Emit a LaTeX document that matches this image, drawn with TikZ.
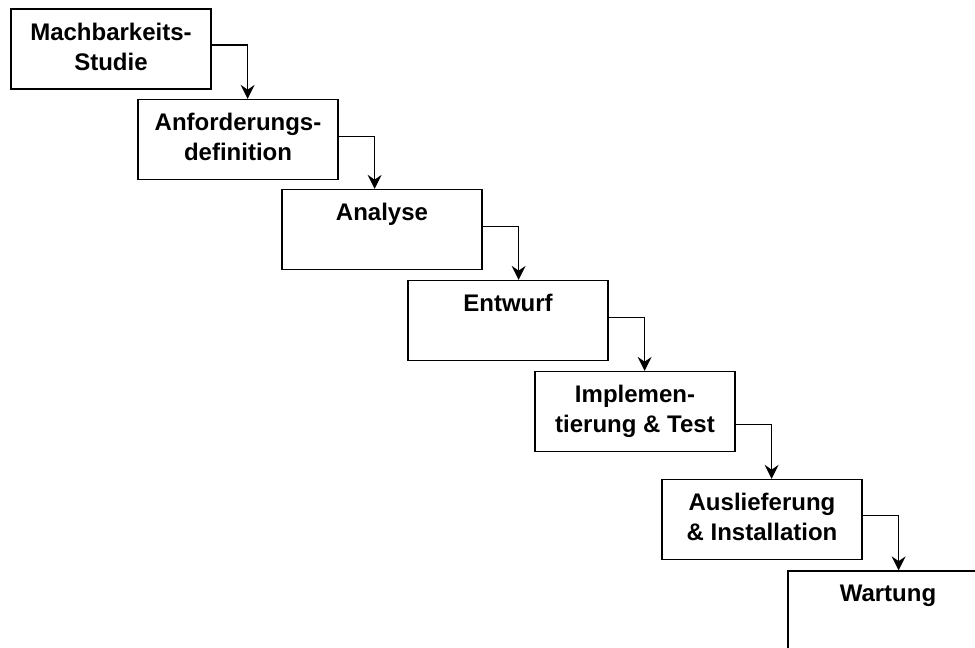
\documentclass[tikz,border=0pt]{standalone}
\usepackage{fontspec}
\setmainfont{Liberation Sans}
\usepackage{tikz}
\usetikzlibrary{calc, positioning, arrows.meta}
\tikzstyle{phase}   = [rectangle, minimum width=100pt, minimum height=40pt, inner sep=0pt, draw=black, line width=0.65pt, fill=white]
\tikzstyle{boxtext} = [inner sep=0pt, outer sep=0pt, align=center, font=\fontsize{12}{15}\selectfont\bfseries]
\tikzstyle{arrow}   = [line width=0.6pt, -{Stealth[length=7pt, width=7pt, inset=2.4pt]}]

\begin{document}
\begin{tikzpicture}[x=0.5pt, y=-0.5pt]
    \clip (0,0) rectangle (975,648);

    \node (machbar) [phase] at (111,49)    {};
    \node (anford)  [phase] at (238,139.5) {};
    \node (analyse) [phase] at (382,229.5) {};
    \node (entwurf) [phase] at (508,320.5) {};
    \node (impl)    [phase] at (635,411.5) {};
    \node (ausl)    [phase] at (762,519.5) {};
    \node (wartung) [phase] at (888,611)   {};

    \node (machbar-t) [boxtext, below=7.2pt of machbar.north] {Machbarkeits-\\Studie};
    \node (anford-t)  [boxtext, below=7.2pt of anford.north]  {Anforderungs-\\definition};
    \node (analyse-t) [boxtext, below=7.2pt of analyse.north] {Analyse};
    \node (entwurf-t) [boxtext, below=7.2pt of entwurf.north] {Entwurf};
    \node (impl-t)    [boxtext, below=7.2pt of impl.north]    {Implemen-\\tierung \& Test};
    \node (ausl-t)    [boxtext, below=7.2pt of ausl.north]    {Auslieferung\\\& Installation};
    \node (wartung-t) [boxtext, below=7.2pt of wartung.north] {Wartung};

    % corners of the connectors
    \coordinate (k1) at ([xshift=18pt]machbar.east);
    \coordinate (k2) at ([xshift=18pt]anford.east);
    \coordinate (k3) at ([xshift=18pt]analyse.east);
    \coordinate (k4) at ([xshift=18pt]entwurf.east);
    \coordinate (k5) at ([xshift=18pt]impl.east);
    \coordinate (k6) at ([xshift=18pt]ausl.east);

    \draw [arrow] ([yshift=2pt]machbar.east)   -| (k1 |- anford.north);
    \draw [arrow] ([yshift=1.5pt]anford.east)  -| (k2 |- analyse.north);
    \draw [arrow] ([yshift=1.5pt]analyse.east) -| (k3 |- entwurf.north);
    \draw [arrow] ([yshift=1.5pt]entwurf.east) -| (k4 |- impl.north);
    \draw [arrow] ([yshift=-6.5pt]impl.east)   -| (k5 |- ausl.north);
    \draw [arrow] ([yshift=2pt]ausl.east)      -| (k6 |- wartung.north);

  \end{tikzpicture}
\end{document}
